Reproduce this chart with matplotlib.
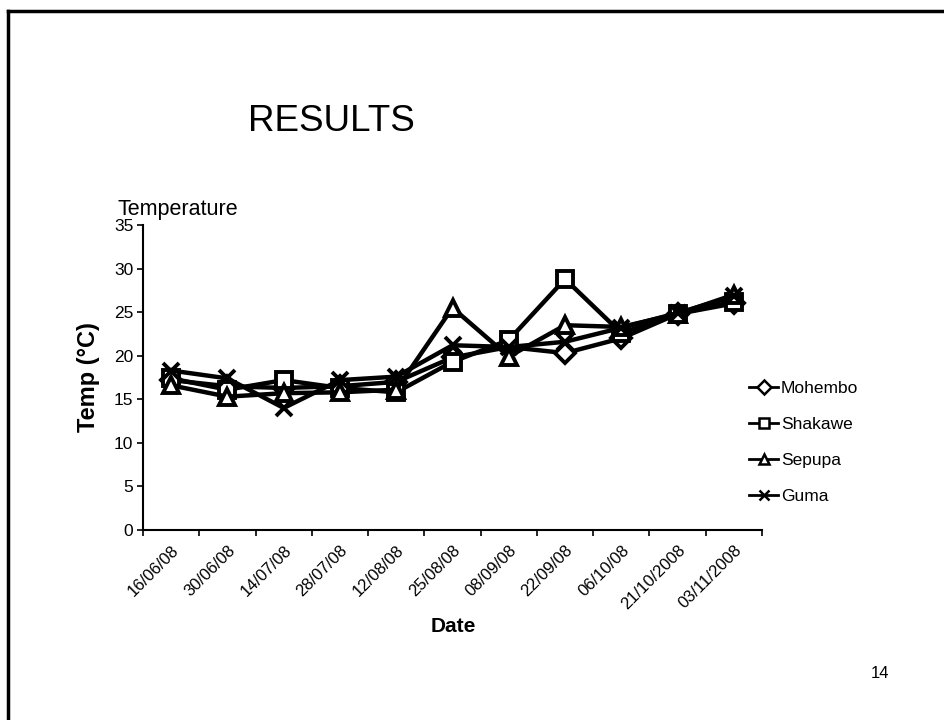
import matplotlib
matplotlib.use("Agg")
import matplotlib.pyplot as plt
from matplotlib.lines import Line2D

plt.rcParams['font.family'] = ['Liberation Sans', 'DejaVu Sans']

dates = ['16/06/08', '30/06/08', '14/07/08', '28/07/08', '12/08/08', '25/08/08',
         '08/09/08', '22/09/08', '06/10/08', '21/10/2008', '03/11/2008']
mohembo = [17.2, 16.5, 16.3, 16.5, 17.0, 19.8, 21.0, 20.3, 22.0, 24.8, 26.0]
shakawe = [17.4, 16.1, 17.2, 16.3, 15.8, 19.3, 21.8, 28.8, 22.6, 24.8, 26.2]
sepupa = [16.6, 15.3, 15.7, 15.8, 16.1, 25.5, 19.9, 23.5, 23.3, 24.8, 27.0]
guma = [18.3, 17.4, 14.0, 17.2, 17.6, 21.2, 21.0, 21.6, 23.2, 24.9, 26.8]
yticks = [0, 5, 10, 15, 20, 25, 30, 35]

series = [
    ('Mohembo', mohembo, 'D', 10),
    ('Shakawe', shakawe, 's', 12),
    ('Sepupa', sepupa, '^', 12),
    ('Guma', guma, 'x', 12),
]

fig = plt.figure(figsize=(9.44, 7.2), dpi=100)
ax = fig.add_axes([143/944, 1-530/720, (762-143)/944, (530-225)/720])

x = list(range(len(dates)))
for name, vals, mk, ms in series:
    ax.plot(x, vals, color='black', lw=3.2, marker=mk, markersize=ms,
            markerfacecolor='white', markeredgecolor='black', markeredgewidth=2.8,
            label=name)

ax.set_xlim(-0.5, len(dates) - 0.5)
ax.set_ylim(0, 35)
ax.set_yticks(yticks)
ax.tick_params(axis='y', direction='out', length=4, width=1.2, labelsize=12.5, pad=3)
ax.set_xticks(x)
ax.set_xticklabels(dates, rotation=45, ha='right', rotation_mode='anchor', fontsize=12)
ax.tick_params(axis='x', which='major', length=0, pad=9)
ax.set_xticks([i - 0.5 for i in range(len(dates) + 1)], minor=True)
ax.tick_params(axis='x', which='minor', direction='out', length=4, width=1.2)
for s in ['top', 'right']:
    ax.spines[s].set_visible(False)
for s in ['left', 'bottom']:
    ax.spines[s].set_linewidth(1.5)

ax.set_ylabel('Temp (°C)', fontsize=17, fontweight='bold', labelpad=10)

handles = [Line2D([0], [0], color='black', lw=2, marker=mk, markersize=7,
                  markerfacecolor='white', markeredgecolor='black', markeredgewidth=1.8)
           for name, vals, mk, ms in series]
fig.legend(handles, [s[0] for s in series], loc='upper left',
           bbox_to_anchor=(742/944, 1-374/720), frameon=False, fontsize=12.5,
           handlelength=1.7, handletextpad=0.15, labelspacing=1.2, borderaxespad=0)

fig.text(248/944, 1-131/720, 'RESULTS', fontsize=26.5, ha='left', va='baseline')
fig.text(118/944, 1-215/720, 'Temperature', fontsize=15.5, ha='left', va='baseline')
fig.text(453/944, 1-627/720, 'Date', fontsize=15, fontweight='bold', ha='center', va='center')
fig.text(880/944, 1-673/720, '14', fontsize=12, ha='center', va='center')

fig.add_artist(Line2D([8/944, 1.0], [1-11/720, 1-11/720], transform=fig.transFigure,
                      color='black', lw=2.5))
fig.add_artist(Line2D([8/944, 8/944], [1-11/720, 0.0], transform=fig.transFigure,
                      color='black', lw=2.5))

fig.savefig('out.png', dpi=100)
